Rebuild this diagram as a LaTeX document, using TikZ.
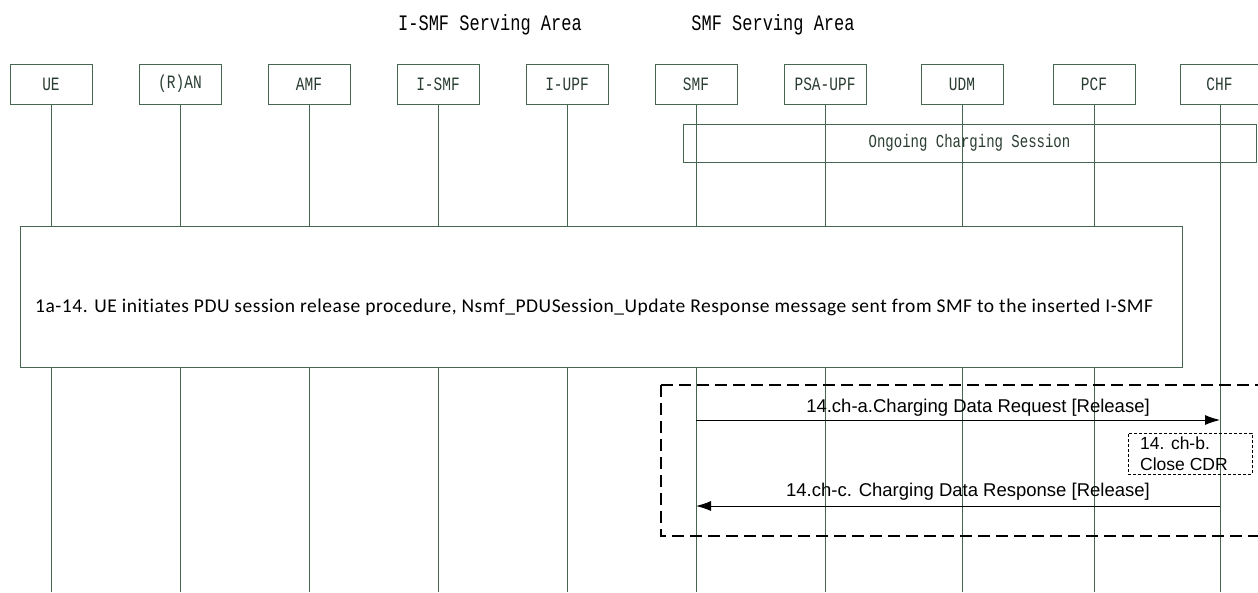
\documentclass[tikz,border=0pt]{standalone}
\usepackage{graphicx}
\usepackage{fontspec}
\setmainfont{Liberation Sans}
\newfontfamily\monofont{Liberation Mono}
\newfontfamily\calfont[LetterSpace=2.7,Ligatures=NoCommon]{Carlito}
\usetikzlibrary{arrows.meta}
\definecolor{lifec}{RGB}{70,102,82}
\newcommand{\tallt}[1]{\scalebox{1}[1.3]{#1}}
\begin{document}
\begin{tikzpicture}[x=1pt,y=-1pt,
  hdr/.style={draw=lifec, line width=1pt, minimum width=82pt, minimum height=40pt, inner sep=0pt,
    text=lifec!60!black, font=\monofont\fontsize{14.5}{16}\selectfont},
  life/.style={draw=lifec, line width=1pt},
  area/.style={font=\monofont\fontsize{17}{20}\selectfont, inner sep=0pt},
  msg/.style={draw=black, line width=0.9pt, -{Latex[length=15pt,width=10pt]}},
  msgl/.style={font=\fontsize{18.5}{20}\selectfont, inner sep=0pt},
  dashbox/.style={draw=black, line width=1.4pt, dash pattern=on 12pt off 6pt},
  notebox/.style={draw=black, line width=0.6pt, dash pattern=on 3pt off 2pt, minimum width=124pt, minimum height=41pt, inner sep=0pt},
]
\useasboundingbox (0,0) rectangle (1258,592);
\fill[white] (0,0) rectangle (1258,592);

% area titles
\node[area] (isa) at (490,25) {\tallt{I-SMF Serving Area}};
\node[area] (sa) at (773,25) {\tallt{SMF Serving Area}};

% headers
\node[hdr] (ue) at (51,84) {\tallt{UE}};
\node[hdr] (ran) at (180,84) {\tallt{(R)AN}};
\node[hdr] (amf) at (309,84) {\tallt{AMF}};
\node[hdr] (ismf) at (438,84) {\tallt{I-SMF}};
\node[hdr] (iupf) at (567,84) {\tallt{I-UPF}};
\node[hdr] (smf) at (696,84) {\tallt{SMF}};
\node[hdr] (psa) at (825,84) {\tallt{PSA-UPF}};
\node[hdr] (udm) at (962,84) {\tallt{UDM}};
\node[hdr] (pcf) at (1094,84) {\tallt{PCF}};
\node[hdr, minimum width=79pt] (chf) at (1219.5,84) {\tallt{CHF}};

% lifeline ends
\foreach \n/\x in {ue/51,ran/180,amf/309,ismf/438,iupf/567,smf/696,psa/825,udm/962,pcf/1094,chf/1220}{
  \coordinate (\n-end) at (\x,592);
  \draw[life] (\n.south -| \n-end) -- (\n-end);
}

% ongoing charging session
\node[draw=lifec, line width=1pt, minimum width=573pt, minimum height=38pt, inner sep=0pt,
  text=lifec!60!black, font=\monofont\fontsize{14}{16}\selectfont] (ocs) at (969.5,143) {\tallt{Ongoing Charging Session}};

% big step box
\node[draw=lifec, line width=1pt, fill=white, minimum width=1162pt, minimum height=141pt, inner sep=0pt] (step) at (601,296.5) {};
\node[anchor=west, inner sep=0pt, font=\calfont\fontsize{19.5}{22}\selectfont] (steptxt) at (35,307)
  {1a-14. UE initiates PDU session release procedure, Nsmf\_PDUSession\_Update Response message sent from SMF to the inserted I-SMF};

% dashed group
\draw[dashbox] (661,385) -- (1265,385) (661,385) -- (661,536) -- (1265,536);

% messages
\coordinate (smf-a) at (696,420);
\coordinate (chf-a) at (1220,420);
\draw[msg] (smf-a) -- (chf-a);
\node[msgl] (la) at (978,408) {14.ch-a.Charging Data Request [Release]};

\node[notebox] (cdr) at (1190,453.5) {};
\node[anchor=north west, inner sep=0pt, align=left, font=\fontsize{17.5}{21}\selectfont] (cdrt) at (1140,437) {14. ch-b.\\Close CDR};

\coordinate (chf-c) at (1220,506);
\coordinate (smf-c) at (696,506);
\draw[msg] (chf-c) -- (smf-c);
\node[msgl] (lc) at (968,492) {14.ch-c. Charging Data Response [Release]};
\end{tikzpicture}
\end{document}
